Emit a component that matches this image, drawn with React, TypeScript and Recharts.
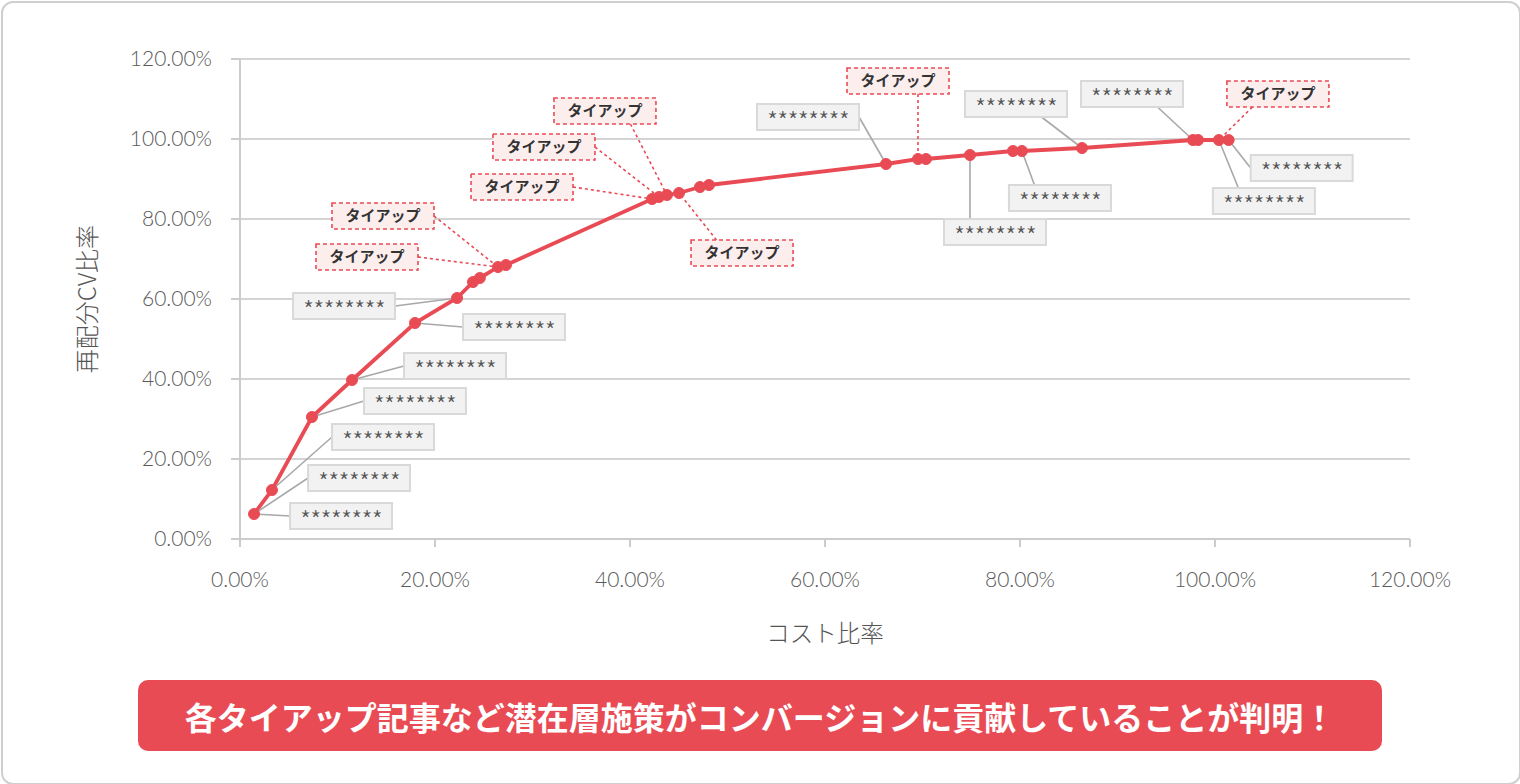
import React from 'react'
import { CartesianGrid, Line, LineChart, XAxis, YAxis } from 'recharts'

// cumulative cost ratio (%) and redistributed CV ratio (%) per measure
const costRatio = [
  1.44, 3.28, 7.38, 11.49, 17.95, 22.26, 23.9, 24.6, 26.46, 27.28, 42.26, 42.97, 43.79, 45.03,
  47.18, 48.1, 66.26, 69.54, 70.36, 74.87, 79.28, 80.2, 86.36, 97.74, 98.26, 100.4, 101.4,
]
const cvRatio = [
  6.25, 12.25, 30.5, 39.75, 54.0, 60.25, 64.25, 65.25, 68.0, 68.5, 85.0, 85.5, 86.0, 86.5, 88.0,
  88.5, 93.75, 95.0, 95.0, 96.0, 97.0, 97.0, 97.75, 99.75, 99.75, 99.75, 99.75,
]
const axisTicks = [0, 20, 40, 60, 80, 100, 120]

const MASK = '********'
const TIEUP = 'タイアップ'

// which point each callout belongs to, and its text
const calloutPoint = [0, 0, 1, 2, 3, 4, 5, 8, 8, 10, 11, 12, 13, 16, 17, 19, 21, 22, 23, 25, 25, 26]
const calloutText = [
  MASK, MASK, MASK, MASK, MASK, MASK, MASK,
  TIEUP, TIEUP, TIEUP, TIEUP, TIEUP, TIEUP,
  MASK, TIEUP, MASK, MASK, MASK, MASK, TIEUP, MASK, MASK,
]

// box offset from its point (px) and the side the leader attaches to
const calloutLayout: [number, number, string][] = [
  [36, -11, 'l'], [54, -49, 'l'], [60, -66, 'l'], [52, -29, 'l'], [52, -27, 'l'], [48, -9, 'l'],
  [-164, -5, 'r'], [-182, -23, 'r'], [-166, -64, 'r'], [-181, -25, 'r'], [-166, -63, 'r'],
  [-113, -97, 'b'], [12, 47, 't'], [-129, -60, 'r'], [-71, -91, 'b'], [-26, 64, 't'],
  [-13, 34, 't'], [-117, -57, 'b'], [-112, -59, 'b'], [8, -59, 'b'], [-6, 48, 't'], [22, 15, 'l'],
]

const RED = '#e94b55'
const BOX_W = 102
const BOX_H = 26
const JP = "'Noto Sans CJK JP', 'Noto Sans', sans-serif"

const data = costRatio.map((cost, i) => ({ cost, cv: cvRatio[i] }))

const pct = (v: number) => `${v.toFixed(2)}%`

const calloutsAt = (i: number) =>
  calloutPoint.map((p, k) => (p === i ? k : -1)).filter((k) => k >= 0)

const boxOf = (k: number, cx: number, cy: number) => {
  const [dx, dy, side] = calloutLayout[k]
  const left = cx + dx
  const top = cy + dy
  let ax = left + BOX_W / 2
  let ay = top + BOX_H / 2
  if (side === 'l') ax = left
  if (side === 'r') ax = left + BOX_W
  if (side === 't' || side === 'b') {
    ay = side === 't' ? top : top + BOX_H
    ax = Math.min(Math.max(cx, left + BOX_W / 4), left + (BOX_W * 3) / 4)
  }
  return { left, top, ax, ay }
}

const Leaders = (props: any) => {
  const { cx, cy, index } = props
  return (
    <g key={`leader-${index}`}>
      {calloutsAt(index).map((k) => {
        const b = boxOf(k, cx, cy)
        const tie = calloutText[k] === TIEUP
        return (
          <line
            key={k}
            x1={b.ax}
            y1={b.ay}
            x2={cx}
            y2={cy}
            stroke={tie ? RED : '#a8a8a8'}
            strokeWidth={1.6}
            strokeDasharray={tie ? '3 3' : undefined}
          />
        )
      })}
    </g>
  )
}

const Boxes = (props: any) => {
  const { cx, cy, index } = props
  return (
    <g key={`box-${index}`}>
      {calloutsAt(index).map((k) => {
        const b = boxOf(k, cx, cy)
        const tie = calloutText[k] === TIEUP
        const mx = b.left + BOX_W / 2
        const my = b.top + BOX_H / 2
        return tie ? (
          <g key={k}>
            <rect x={b.left} y={b.top} width={BOX_W} height={BOX_H} fill="#fdeeee" stroke={RED}
              strokeWidth={1.6} strokeDasharray="4 3" />
            <text x={mx} y={my + 5} textAnchor="middle" fontSize={15} fontWeight={700}
              fontFamily={JP} fill="#333">
              {calloutText[k]}
            </text>
          </g>
        ) : (
          <g key={k}>
            <rect x={b.left} y={b.top} width={BOX_W} height={BOX_H} fill="#f2f2f2" stroke="#d9d9d9"
              strokeWidth={2} />
            <text x={mx} y={my + 14} textAnchor="middle" fontSize={25} letterSpacing={-0.8}
              fontWeight={300} fontFamily={JP} fill="#555">
              {calloutText[k]}
            </text>
          </g>
        )
      })}
    </g>
  )
}

const YTitle = (props: any) => {
  const vb = props.viewBox || { x: 0, y: 59, width: 240, height: 480 }
  const x = vb.x + 88
  const y = vb.y + vb.height / 2
  return (
    <text x={x} y={y} transform={`rotate(-90 ${x} ${y})`} textAnchor="middle" dy={8}
      fontSize={24} fontWeight={300} fontFamily={JP} fill="#555">
      再配分CV比率
    </text>
  )
}

const XTitle = (props: any) => {
  const vb = props.viewBox || { x: 240, y: 539, width: 1170, height: 110 }
  return (
    <text x={vb.x + vb.width / 2} y={vb.y + 103} textAnchor="middle" fontSize={23.5}
      fontWeight={300} fontFamily={JP} fill="#555">
      コスト比率
    </text>
  )
}

const tickStyle = { fill: '#5a5a5a', fontSize: 21, fontFamily: 'Lato', fontWeight: 300 }
const axisStroke = { stroke: '#cccccc', strokeWidth: 2 }

export default function App() {
  return (
    <div style={{ position: 'relative', width: 1520, height: 784, background: '#fff' }}>
      <style>{'body{margin:0}'}</style>
      <div
        style={{
          position: 'absolute', left: 1, top: 1, width: 1516, height: 780,
          border: '2px solid #cfcfcf', borderRadius: 12, boxSizing: 'content-box',
        }}
      />
      <div style={{ position: 'absolute', left: 0, top: 0 }}>
        <LineChart width={1520} height={660} data={data}
          margin={{ top: 59, right: 110, left: 0, bottom: 11 }}>
          <CartesianGrid vertical={false} stroke="#d4d4d4" strokeWidth={2} />
          <XAxis type="number" dataKey="cost" domain={[0, 120]} ticks={axisTicks}
            tickFormatter={pct} height={110} axisLine={axisStroke} tickLine={axisStroke}
            tickSize={8} tickMargin={25} tick={tickStyle} label={{ content: XTitle }} />
          <YAxis type="number" domain={[0, 120]} ticks={axisTicks} tickFormatter={pct}
            width={240} axisLine={axisStroke} tickLine={axisStroke} tickSize={9} tickMargin={19}
            tick={tickStyle} label={{ content: YTitle }} />
          <Line dataKey="cv" stroke="none" dot={Leaders} activeDot={false}
            isAnimationActive={false} legendType="none" />
          <Line dataKey="cv" type="linear" stroke={RED} strokeWidth={3.8}
            dot={{ r: 5.5, fill: RED, stroke: RED, strokeWidth: 1 }} activeDot={false}
            isAnimationActive={false} />
          <Line dataKey="cv" stroke="none" dot={Boxes} activeDot={false}
            isAnimationActive={false} legendType="none" />
        </LineChart>
      </div>
      <div
        style={{
          position: 'absolute', left: 138, top: 680, width: 1244, height: 71,
          background: RED, borderRadius: 10, color: '#fff', fontFamily: JP, fontWeight: 700,
          fontSize: 32, display: 'flex', alignItems: 'center', justifyContent: 'center',
        }}
      >
        各タイアップ記事など潜在層施策がコンバージョンに貢献していることが判明！
      </div>
    </div>
  )
}
